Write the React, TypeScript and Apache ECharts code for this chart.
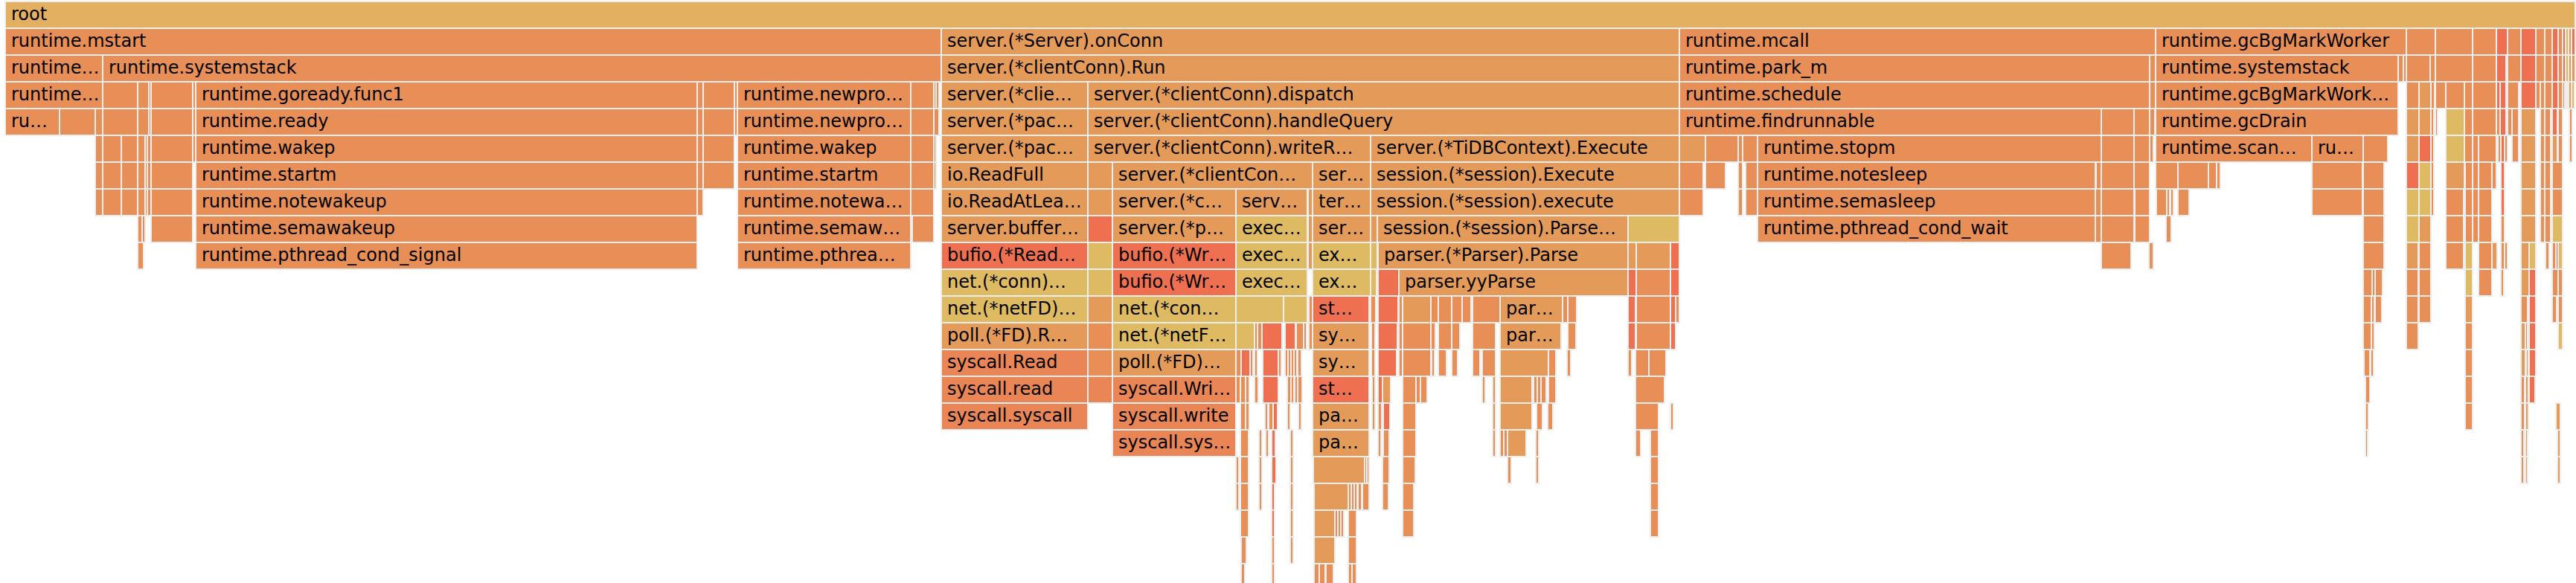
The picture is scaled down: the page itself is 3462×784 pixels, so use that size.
import React, { useEffect, useRef } from 'react';
import * as echarts from 'echarts';

// Flame graph: each frame = [startSample, endSample, colourIndex, label?]
const TOTAL_SAMPLES = 3454;
const MAX_DEPTH = 21;
const PALETTE = ['#E3AF61', '#E88E57', '#E49B5A', '#EE7050', '#DEBB63', '#EA8656'];

type Frame = [number, number, number, string?];

const level0: Frame[] = [[0, 3454, 0, 'root']];
const level1: Frame[] = [
  [0, 1258, 1, 'runtime.mstart'], [1258, 2250, 2, 'server.(*Server).onConn'], [2250, 2890, 1, 'runtime.mcall'],
  [2890, 3227, 1, 'runtime.gcBgMarkWorker'], [3227, 3266, 1], [3266, 3316, 1], [3316, 3348, 1], [3348, 3363, 3],
  [3363, 3381, 1], [3381, 3401, 3], [3401, 3413, 1], [3413, 3423, 1], [3423, 3431, 3], [3431, 3437, 1],
  [3437, 3441, 3], [3441, 3445, 4], [3445, 3449, 2], [3449, 3454, 3],
];
const level2: Frame[] = [
  [0, 131, 1, 'runtime…'], [131, 1258, 1, 'runtime.systemstack'], [1258, 2250, 2, 'server.(*clientConn).Run'],
  [2250, 2882, 1, 'runtime.park_m'], [2882, 2890, 1], [2890, 3216, 1, 'runtime.systemstack'], [3216, 3223, 1],
  [3223, 3227, 1], [3227, 3259, 1], [3259, 3266, 1], [3266, 3316, 1], [3316, 3348, 1], [3348, 3361, 3],
  [3361, 3363, 3], [3363, 3381, 1], [3381, 3401, 3], [3401, 3413, 1], [3413, 3423, 1], [3423, 3431, 3],
  [3431, 3437, 1], [3437, 3441, 3], [3441, 3445, 4], [3445, 3449, 2], [3449, 3454, 2],
];
const level3: Frame[] = [
  [0, 131, 1, 'runtime…'], [131, 178, 1], [178, 193, 1], [193, 196, 1], [196, 252, 1], [252, 256, 1],
  [256, 930, 1, 'runtime.goready.func1'], [930, 938, 1], [938, 980, 1], [980, 984, 1],
  [984, 1217, 1, 'runtime.newpro…'], [1217, 1248, 1], [1248, 1251, 1], [1251, 1255, 1],
  [1258, 1455, 2, 'server.(*clie…'], [1455, 2250, 2, 'server.(*clientConn).dispatch'],
  [2250, 2882, 1, 'runtime.schedule'], [2882, 2890, 1], [2890, 3216, 1, 'runtime.gcBgMarkWork…'],
  [3227, 3244, 1], [3244, 3260, 2], [3260, 3265, 1], [3266, 3280, 1], [3280, 3305, 1], [3305, 3316, 1],
  [3316, 3348, 1], [3348, 3353, 3], [3353, 3361, 3], [3363, 3378, 1], [3381, 3401, 3], [3401, 3407, 1],
  [3407, 3413, 1], [3413, 3423, 1], [3423, 3431, 3], [3431, 3437, 1], [3437, 3440, 1], [3441, 3443, 4],
  [3445, 3449, 2], [3449, 3453, 4],
];
const level4: Frame[] = [
  [0, 73, 1, 'ru…'], [73, 121, 1], [121, 131, 1], [131, 178, 1], [178, 193, 1], [193, 196, 1], [196, 252, 1],
  [252, 256, 1], [256, 930, 1, 'runtime.ready'], [930, 938, 1], [938, 980, 1], [980, 984, 1],
  [984, 1217, 1, 'runtime.newpro…'], [1217, 1248, 1], [1248, 1255, 1], [1258, 1455, 2, 'server.(*pac…'],
  [1455, 2250, 2, 'server.(*clientConn).handleQuery'], [2250, 2817, 1, 'runtime.findrunnable'],
  [2817, 2861, 1], [2861, 2882, 1], [2882, 2889, 1], [2890, 3216, 1, 'runtime.gcDrain'], [3227, 3244, 2],
  [3244, 3260, 2], [3260, 3264, 1], [3266, 3269, 1], [3280, 3305, 4], [3305, 3316, 1], [3316, 3348, 1],
  [3348, 3353, 1], [3353, 3361, 3], [3363, 3369, 1], [3369, 3378, 1], [3381, 3401, 2], [3407, 3413, 1],
  [3413, 3421, 1], [3423, 3430, 3], [3431, 3437, 1], [3446, 3450, 1],
];
const level5: Frame[] = [
  [121, 131, 1], [131, 156, 1], [156, 178, 1], [178, 188, 1], [188, 191, 1], [191, 196, 1], [196, 252, 1],
  [252, 256, 1], [256, 930, 1, 'runtime.wakep'], [930, 938, 1], [938, 980, 1], [984, 1217, 1, 'runtime.wakep'],
  [1217, 1248, 1], [1248, 1251, 1], [1258, 1455, 2, 'server.(*pac…'],
  [1455, 1835, 2, 'server.(*clientConn).writeR…'], [1835, 2250, 2, 'server.(*TiDBContext).Execute'],
  [2250, 2285, 2], [2285, 2329, 1], [2329, 2335, 1], [2335, 2355, 1], [2355, 2817, 1, 'runtime.stopm'],
  [2817, 2861, 1], [2861, 2882, 1], [2882, 2887, 1], [2890, 3100, 1, 'runtime.scan…'], [3100, 3169, 1, 'ru…'],
  [3169, 3202, 1], [3227, 3244, 2], [3244, 3260, 3], [3260, 3264, 1], [3280, 3305, 4], [3305, 3316, 1],
  [3316, 3324, 1], [3324, 3348, 1], [3350, 3354, 1], [3354, 3359, 3], [3359, 3363, 1], [3369, 3378, 1],
  [3381, 3401, 2], [3407, 3413, 1], [3413, 3421, 1], [3423, 3430, 2], [3431, 3437, 1], [3446, 3450, 1],
];
const level6: Frame[] = [
  [121, 131, 1], [131, 156, 1], [156, 178, 1], [178, 188, 1], [188, 191, 1], [191, 196, 1], [196, 252, 1],
  [256, 930, 1, 'runtime.startm'], [930, 938, 1], [938, 980, 1], [984, 1217, 1, 'runtime.startm'],
  [1217, 1248, 1], [1248, 1251, 1], [1258, 1455, 2, 'io.ReadFull'], [1455, 1488, 2],
  [1488, 1757, 2, 'server.(*clientCon…'], [1757, 1835, 2, 'ser…'], [1835, 2250, 2, 'session.(*session).Execute'],
  [2250, 2282, 1], [2285, 2312, 1], [2329, 2335, 1], [2339, 2355, 1], [2355, 2809, 1, 'runtime.notesleep'],
  [2810, 2817, 1], [2817, 2861, 1], [2861, 2882, 1], [2890, 2920, 1], [2920, 2961, 1], [2961, 2972, 1],
  [2972, 2977, 1], [3100, 3168, 1], [3169, 3197, 1], [3227, 3244, 3], [3244, 3260, 4], [3260, 3264, 1],
  [3280, 3305, 2], [3306, 3316, 1], [3316, 3324, 1], [3324, 3342, 1], [3342, 3348, 1], [3354, 3359, 3],
  [3381, 3401, 2], [3407, 3413, 1], [3413, 3421, 1], [3423, 3437, 1],
];
const level7: Frame[] = [
  [121, 131, 1], [131, 156, 1], [156, 178, 1], [178, 188, 1], [188, 191, 1], [191, 196, 1], [196, 252, 1],
  [256, 930, 1, 'runtime.notewakeup'], [930, 938, 1], [984, 1217, 1, 'runtime.notewa…'], [1217, 1248, 1],
  [1258, 1455, 2, 'io.ReadAtLea…'], [1455, 1488, 2], [1488, 1654, 2, 'server.(*c…'], [1654, 1750, 2, 'serv…'],
  [1751, 1757, 2], [1757, 1835, 2, 'ter…'], [1835, 2250, 2, 'session.(*session).execute'], [2250, 2282, 1],
  [2329, 2335, 1], [2339, 2355, 1], [2355, 2809, 1, 'runtime.semasleep'], [2809, 2817, 1], [2817, 2861, 1],
  [2862, 2882, 1], [2891, 2905, 1], [2905, 2909, 1], [2910, 2914, 1], [2920, 2935, 1], [3100, 3168, 1],
  [3169, 3197, 1], [3227, 3244, 4], [3244, 3260, 4], [3260, 3264, 1], [3280, 3304, 1], [3306, 3316, 1],
  [3316, 3324, 1], [3324, 3342, 1], [3354, 3359, 3], [3381, 3401, 2], [3407, 3413, 1], [3413, 3421, 1],
  [3423, 3437, 1],
];
const level8: Frame[] = [
  [178, 184, 1], [184, 188, 1], [196, 252, 1], [256, 930, 1, 'runtime.semawakeup'],
  [984, 1217, 1, 'runtime.semaw…'], [1219, 1248, 1], [1258, 1455, 2, 'server.buffer…'], [1455, 1488, 3],
  [1488, 1654, 2, 'server.(*p…'], [1654, 1750, 4, 'exec…'], [1751, 1757, 2], [1757, 1835, 2, 'ser…'],
  [1835, 1844, 2], [1844, 2181, 2, 'session.(*session).Parse…'], [2181, 2250, 4],
  [2355, 2809, 1, 'runtime.pthread_cond_wait'], [2809, 2817, 1], [2817, 2861, 1], [2862, 2882, 1],
  [2904, 2911, 1], [3169, 3197, 1], [3227, 3244, 4], [3244, 3260, 2], [3280, 3304, 1], [3306, 3316, 1],
  [3316, 3324, 1], [3324, 3342, 1], [3354, 3359, 1], [3381, 3401, 2], [3407, 3413, 1], [3413, 3421, 1],
  [3423, 3437, 4],
];
const level9: Frame[] = [
  [178, 186, 1], [256, 930, 1, 'runtime.pthread_cond_signal'], [984, 1217, 1, 'runtime.pthrea…'],
  [1258, 1455, 3, 'bufio.(*Read…'], [1455, 1488, 4], [1488, 1654, 3, 'bufio.(*Wr…'], [1654, 1750, 4, 'exec…'],
  [1751, 1757, 2], [1757, 1835, 4, 'ex…'], [1835, 1844, 4], [1845, 2181, 2, 'parser.(*Parser).Parse'],
  [2181, 2192, 2], [2192, 2238, 2], [2238, 2250, 3], [2817, 2857, 1], [2881, 2887, 1], [3169, 3197, 1],
  [3227, 3243, 2], [3244, 3260, 1], [3280, 3304, 1], [3306, 3316, 4], [3324, 3342, 1], [3342, 3349, 2],
  [3354, 3359, 1], [3359, 3363, 1], [3381, 3392, 2], [3392, 3401, 4], [3414, 3419, 1], [3423, 3428, 1],
  [3428, 3431, 3], [3431, 3437, 4],
];
const level10: Frame[] = [
  [1258, 1455, 4, 'net.(*conn)…'], [1455, 1488, 4], [1488, 1654, 3, 'bufio.(*Wr…'], [1654, 1750, 4, 'exec…'],
  [1757, 1835, 4, 'ex…'], [1835, 1843, 4], [1845, 1873, 3], [1873, 2181, 2, 'parser.yyParse'],
  [2181, 2192, 3], [2192, 2238, 1], [2238, 2250, 3], [3169, 3181, 1], [3181, 3185, 1], [3185, 3195, 1],
  [3227, 3243, 1], [3244, 3260, 1], [3306, 3316, 4], [3324, 3342, 1], [3354, 3358, 1], [3381, 3392, 2],
  [3392, 3401, 3], [3423, 3431, 1], [3431, 3437, 1],
];
const level11: Frame[] = [
  [1258, 1455, 4, 'net.(*netFD)…'], [1455, 1488, 2], [1488, 1654, 4, 'net.(*con…'], [1654, 1718, 4],
  [1718, 1750, 4], [1752, 1757, 1], [1757, 1833, 3, 'st…'], [1835, 1842, 1], [1845, 1872, 3], [1873, 1878, 1],
  [1878, 1916, 2], [1916, 1926, 1], [1926, 1944, 1], [1944, 1958, 1], [1958, 1970, 1], [1972, 2009, 1],
  [2009, 2093, 2, 'par…'], [2093, 2100, 1], [2100, 2112, 1], [2181, 2191, 3], [2192, 2238, 1],
  [2238, 2245, 3], [2245, 2250, 1], [3169, 3180, 1], [3180, 3184, 1], [3185, 3194, 1], [3227, 3243, 1],
  [3244, 3260, 1], [3306, 3316, 2], [3381, 3390, 1], [3390, 3392, 1], [3392, 3401, 3], [3423, 3429, 1],
  [3431, 3437, 1],
];
const level12: Frame[] = [
  [1258, 1455, 2, 'poll.(*FD).R…'], [1455, 1488, 1], [1488, 1654, 4, 'net.(*netF…'], [1654, 1679, 4],
  [1679, 1683, 1], [1683, 1689, 1], [1689, 1716, 3], [1720, 1734, 3], [1735, 1745, 1], [1745, 1749, 1],
  [1752, 1757, 1], [1757, 1833, 2, 'sy…'], [1836, 1841, 1], [1845, 1871, 3], [1873, 1878, 1], [1878, 1916, 1],
  [1916, 1922, 1], [1926, 1944, 1], [1944, 1955, 1], [1972, 2003, 1], [2009, 2091, 2, 'par…'],
  [2100, 2111, 1], [2181, 2191, 3], [2192, 2238, 1], [2238, 2245, 3], [3169, 3180, 1], [3180, 3184, 1],
  [3227, 3243, 1], [3306, 3316, 1], [3381, 3387, 2], [3387, 3390, 1], [3392, 3401, 3], [3431, 3437, 4],
];
const level13: Frame[] = [
  [1258, 1455, 5, 'syscall.Read'], [1455, 1488, 1], [1488, 1654, 2, 'poll.(*FD)…'], [1654, 1661, 1],
  [1661, 1673, 3], [1673, 1677, 1], [1679, 1683, 1], [1690, 1711, 3], [1711, 1715, 1], [1720, 1724, 1],
  [1724, 1728, 1], [1728, 1732, 1], [1732, 1736, 1], [1737, 1742, 1], [1757, 1833, 2, 'sy…'], [1836, 1841, 1],
  [1845, 1870, 3], [1873, 1878, 1], [1878, 1916, 1], [1917, 1921, 1], [1926, 1937, 1], [1944, 1952, 1],
  [1972, 1982, 1], [1985, 2003, 1], [2009, 2074, 2], [2074, 2084, 1], [2099, 2104, 1], [2181, 2186, 1],
  [2191, 2209, 1], [2209, 2232, 1], [3170, 3178, 1], [3179, 3183, 1], [3306, 3316, 1], [3381, 3387, 2],
  [3388, 3391, 2], [3392, 3401, 3],
];
const level14: Frame[] = [
  [1258, 1455, 5, 'syscall.read'], [1455, 1488, 5], [1488, 1654, 5, 'syscall.Wri…'], [1654, 1660, 1],
  [1660, 1667, 1], [1667, 1672, 1], [1679, 1684, 1], [1690, 1711, 3], [1723, 1728, 1], [1728, 1732, 1],
  [1733, 1737, 1], [1737, 1743, 1], [1757, 1833, 3, 'st…'], [1837, 1841, 1], [1845, 1851, 3],
  [1851, 1862, 2], [1878, 1896, 1], [1896, 1902, 1], [1902, 1911, 1], [1985, 1989, 1], [1999, 2003, 1],
  [2009, 2052, 2], [2054, 2059, 1], [2059, 2064, 1], [2064, 2071, 1], [2074, 2084, 1], [2191, 2230, 1],
  [3172, 3178, 1], [3306, 3316, 1], [3381, 3386, 1], [3387, 3391, 2], [3392, 3400, 3],
];
const level15: Frame[] = [
  [1258, 1455, 5, 'syscall.syscall'], [1488, 1654, 5, 'syscall.write'], [1660, 1667, 1], [1667, 1672, 1],
  [1693, 1697, 1], [1698, 1704, 1], [1704, 1710, 3], [1723, 1727, 1], [1738, 1742, 1],
  [1757, 1833, 2, 'pa…'], [1837, 1841, 1], [1845, 1850, 1], [1852, 1861, 3], [1878, 1896, 1],
  [1999, 2003, 1], [2009, 2052, 2], [2058, 2066, 1], [2073, 2080, 1], [2191, 2222, 1], [2238, 2242, 1],
  [3172, 3176, 1], [3306, 3316, 1], [3381, 3386, 1], [3387, 3391, 2], [3428, 3434, 2],
];
const level16: Frame[] = [
  [1488, 1654, 5, 'syscall.sys…'], [1660, 1671, 1], [1685, 1689, 1], [1694, 1698, 1], [1702, 1707, 3],
  [1727, 1731, 1], [1757, 1833, 2, 'pa…'], [1845, 1849, 1], [1852, 1860, 1], [1878, 1896, 1],
  [1999, 2003, 1], [2009, 2014, 1], [2014, 2019, 1], [2019, 2044, 2], [2057, 2061, 1], [2191, 2198, 1],
  [2211, 2222, 1], [3172, 3175, 1], [3381, 3385, 1], [3387, 3390, 2], [3430, 3434, 2],
];
const level17: Frame[] = [
  [1654, 1658, 1], [1660, 1671, 1], [1685, 1689, 1], [1702, 1708, 3], [1727, 1731, 1], [1758, 1827, 2],
  [1827, 1830, 1], [1830, 1833, 1], [1851, 1860, 1], [1878, 1895, 1], [2019, 2024, 1], [2057, 2061, 1],
  [2211, 2222, 1], [3381, 3385, 1], [3387, 3390, 2], [3430, 3434, 2],
];
const level18: Frame[] = [
  [1654, 1658, 1], [1660, 1671, 1], [1685, 1689, 1], [1702, 1706, 3], [1727, 1731, 1], [1759, 1805, 2],
  [1805, 1809, 1], [1809, 1813, 1], [1813, 1817, 1], [1818, 1823, 1], [1824, 1833, 1], [1851, 1859, 1],
  [1878, 1893, 1], [2211, 2222, 1],
];
const level19: Frame[] = [
  [1660, 1671, 1], [1702, 1706, 3], [1727, 1731, 1], [1759, 1787, 2], [1787, 1791, 1], [1791, 1795, 1],
  [1795, 1799, 1], [1805, 1816, 1], [1878, 1893, 1], [2211, 2222, 1],
];
const level20: Frame[] = [
  [1661, 1668, 1], [1702, 1706, 1], [1727, 1731, 1], [1759, 1787, 2], [1805, 1816, 1],
];
const level21: Frame[] = [
  [1661, 1666, 1], [1702, 1706, 1], [1759, 1766, 1], [1766, 1774, 1], [1775, 1785, 1], [1805, 1810, 1],
  [1810, 1816, 1],
];

const LEVELS: Frame[][] = [
  level0, level1, level2, level3, level4, level5, level6, level7, level8, level9, level10,
  level11, level12, level13, level14, level15, level16, level17, level18, level19, level20, level21,
];

const seriesData: number[][] = [];
const labels: string[] = [];
LEVELS.forEach((frames, depth) => {
  frames.forEach((f) => {
    seriesData.push([f[0], f[1], depth, f[2]]);
    labels.push(f[3] || '');
  });
});

export default function App() {
  const ref = useRef<HTMLDivElement>(null);
  useEffect(() => {
    if (!ref.current) return;
    const chart = echarts.init(ref.current, undefined, { renderer: 'svg' });
    chart.setOption({
      animation: false,
      backgroundColor: '#ffffff',
      grid: { left: 7, top: 2, width: 3454, height: 36 * MAX_DEPTH },
      xAxis: { type: 'value', min: 0, max: TOTAL_SAMPLES, show: false },
      yAxis: { type: 'value', min: 0, max: MAX_DEPTH, inverse: true, show: false },
      series: [
        {
          type: 'custom',
          clip: false,
          silent: true,
          data: seriesData,
          encode: { x: [0, 1], y: 2 },
          renderItem: (params: any, api: any) => {
            const s = api.value(0);
            const e = api.value(1);
            const d = api.value(2);
            const c = api.value(3);
            const p0 = api.coord([s, d]);
            const p1 = api.coord([e, d + 1]);
            const x = p0[0];
            const y = p0[1];
            const w = p1[0] - p0[0];
            const h = p1[1] - p0[1];
            const label = labels[params.dataIndex];
            const children: any[] = [
              {
                type: 'rect',
                shape: { x, y, width: w, height: h },
                style: { fill: PALETTE[c], stroke: '#eeeeee', lineWidth: 2 },
              },
            ];
            if (label) {
              children.push({
                type: 'text',
                x: x + 8,
                y: y + h / 2 - 1,
                style: {
                  text: label,
                  fill: '#000000',
                  font: '24px "DejaVu Sans"',
                  textAlign: 'left',
                  textVerticalAlign: 'middle',
                  align: 'left',
                  verticalAlign: 'middle',
                },
              });
            }
            return { type: 'group', children };
          },
        },
      ],
    });
    return () => chart.dispose();
  }, []);
  return (
    <div
      ref={ref}
      style={{ position: 'fixed', left: 0, top: 0, width: 3462, height: 784, background: '#fff' }}
    />
  );
}
